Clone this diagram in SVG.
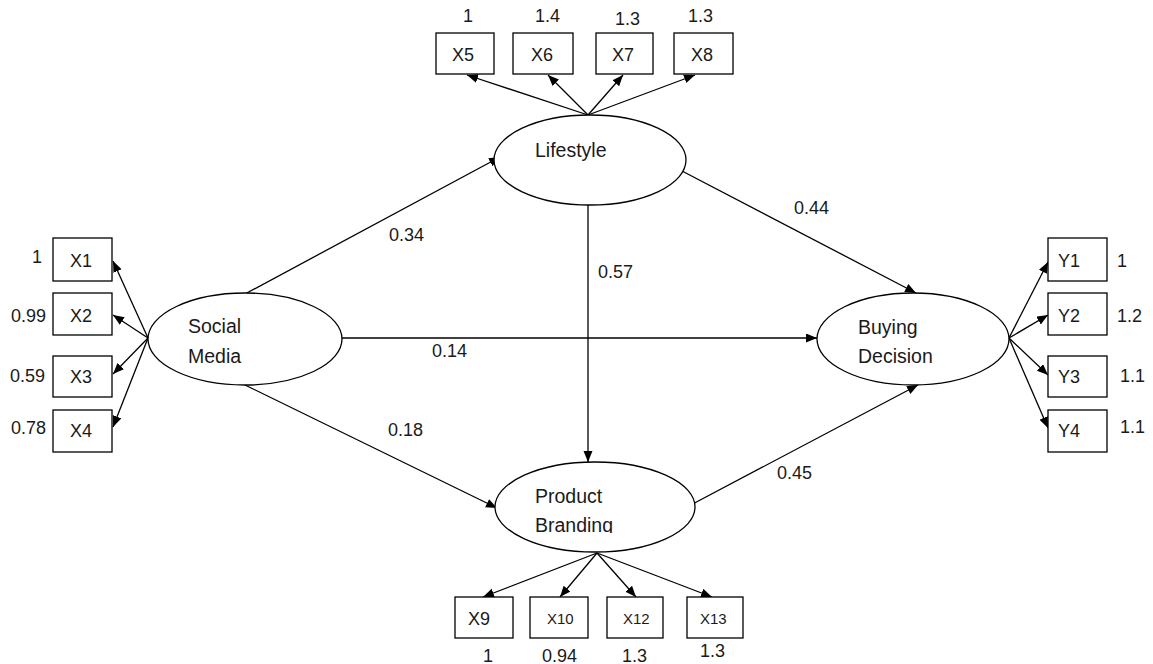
<svg xmlns="http://www.w3.org/2000/svg" width="1153" height="664" viewBox="0 0 1153 664">
<style>
text{font-family:"Liberation Sans",Arial,sans-serif;font-size:18px;fill:#1a1a1a}
.sm{font-size:15px}
.lbl{font-size:19.5px}
.box{fill:#fff;stroke:#000;stroke-width:1.3}
ellipse{fill:#fff;stroke:#000;stroke-width:1.3}
.c line{stroke:#000;stroke-width:1.3;marker-end:url(#ah)}
</style>
<defs>
<marker id="ah" markerUnits="userSpaceOnUse" markerWidth="12" markerHeight="10" refX="11" refY="4.5" orient="auto">
<path d="M0,0 L11,4.5 L0,9 z" fill="#000"/>
</marker>
<clipPath id="pbclip"><rect x="480" y="460" width="230" height="73"/></clipPath>
</defs>
<rect x="0" y="0" width="1153" height="664" fill="#fff"/>
<g id="connectors" class="c">
<line x1="588" y1="115" x2="467" y2="75"/>
<line x1="588" y1="115" x2="548" y2="75"/>
<line x1="588" y1="115" x2="623" y2="75"/>
<line x1="588" y1="115" x2="695" y2="75"/>
<line x1="148" y1="338" x2="113" y2="261"/>
<line x1="148" y1="338" x2="113" y2="315"/>
<line x1="148" y1="338" x2="113" y2="374"/>
<line x1="148" y1="338" x2="113" y2="427"/>
<line x1="1009" y1="338" x2="1048" y2="262"/>
<line x1="1009" y1="338" x2="1048" y2="315"/>
<line x1="1009" y1="338" x2="1048" y2="375"/>
<line x1="1009" y1="338" x2="1048" y2="428"/>
<line x1="597" y1="553" x2="483" y2="597"/>
<line x1="597" y1="553" x2="560" y2="597"/>
<line x1="597" y1="553" x2="636" y2="597"/>
<line x1="597" y1="553" x2="712" y2="597"/>
<line x1="245" y1="294" x2="500" y2="157"/>
<line x1="682" y1="171" x2="916" y2="293"/>
<line x1="588" y1="205" x2="588" y2="462"/>
<line x1="342" y1="338" x2="817" y2="338"/>
<line x1="245" y1="385" x2="497" y2="508"/>
<line x1="687" y1="507" x2="918" y2="385"/>
<text x="389" y="241">0.34</text>
<text x="794" y="214">0.44</text>
<text x="598" y="278">0.57</text>
<text x="432" y="357">0.14</text>
<text x="388" y="436">0.18</text>
<text x="777" y="479">0.45</text>
</g>
<g id="lifestyle"><ellipse cx="590" cy="160" rx="96" ry="45"/><text class="lbl" x="535" y="157">Lifestyle</text></g>
<g id="social-media"><ellipse cx="245" cy="339" rx="97" ry="46"/><text class="lbl" x="188" y="333">Social</text><text class="lbl" x="188" y="363">Media</text></g>
<g id="buying-decision"><ellipse cx="913" cy="339" rx="96" ry="46"/><text class="lbl" x="858" y="334">Buying</text><text class="lbl" x="858" y="363">Decision</text></g>
<g id="product-branding"><ellipse cx="595" cy="507" rx="100" ry="45"/><text class="lbl" x="535" y="503">Product</text><text class="lbl" x="535" y="532" clip-path="url(#pbclip)">Branding</text></g>
<g id="x5"><rect class="box" x="436" y="33" width="58" height="41"/><text x="452" y="61">X5</text><text x="463" y="22">1</text></g>
<g id="x6"><rect class="box" x="513" y="33" width="60" height="41"/><text x="531" y="61">X6</text><text x="535" y="22">1.4</text></g>
<g id="x7"><rect class="box" x="596" y="33" width="57" height="41"/><text x="612" y="61">X7</text><text x="615" y="25">1.3</text></g>
<g id="x8"><rect class="box" x="674" y="33" width="59" height="41"/><text x="691" y="61">X8</text><text x="688" y="22">1.3</text></g>
<g id="x1"><rect class="box" x="53" y="238" width="59" height="43"/><text x="70" y="267">X1</text><text x="32" y="263">1</text></g>
<g id="x2"><rect class="box" x="53" y="293" width="59" height="42"/><text x="70" y="322">X2</text><text x="11" y="322">0.99</text></g>
<g id="x3"><rect class="box" x="53" y="356" width="59" height="41"/><text x="70" y="383">X3</text><text x="10" y="382">0.59</text></g>
<g id="x4"><rect class="box" x="53" y="410" width="59" height="42"/><text x="70" y="437">X4</text><text x="11" y="434">0.78</text></g>
<g id="y1"><rect class="box" x="1048" y="238" width="59" height="43"/><text x="1058" y="267">Y1</text><text x="1117" y="267">1</text></g>
<g id="y2"><rect class="box" x="1048" y="293" width="59" height="42"/><text x="1058" y="322">Y2</text><text x="1117" y="322">1.2</text></g>
<g id="y3"><rect class="box" x="1048" y="356" width="59" height="41"/><text x="1058" y="383">Y3</text><text x="1120" y="382">1.1</text></g>
<g id="y4"><rect class="box" x="1048" y="410" width="59" height="42"/><text x="1058" y="437">Y4</text><text x="1120" y="433">1.1</text></g>
<g id="x9"><rect class="box" x="455" y="597" width="58" height="41"/><text x="468" y="625">X9</text><text x="483" y="662">1</text></g>
<g id="x10"><rect class="box" x="530" y="597" width="58" height="41"/><text class="sm" x="547" y="624">X10</text><text x="542" y="662">0.94</text></g>
<g id="x12"><rect class="box" x="607" y="597" width="56" height="41"/><text class="sm" x="623" y="624">X12</text><text x="622" y="662">1.3</text></g>
<g id="x13"><rect class="box" x="687" y="597" width="56" height="41"/><text class="sm" x="700" y="624">X13</text><text x="700" y="657">1.3</text></g>
</svg>
